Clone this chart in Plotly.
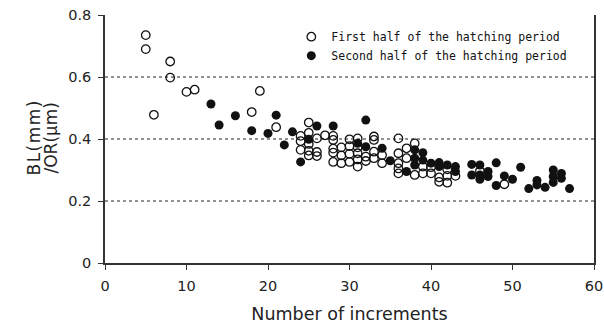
import plotly.graph_objects as go

# First half of the hatching period (open circles)
first_x = [5, 5, 6, 8, 8, 10, 11, 18, 19, 21,
           24, 24, 24,
           25, 25, 25, 25, 25,
           26, 26, 26,
           27,
           28, 28, 28, 28, 28,
           29, 29, 29,
           30, 30, 30, 30,
           31, 31, 31, 31, 31,
           32, 32,
           33, 33, 33, 33,
           34, 34,
           36, 36, 36, 36, 36,
           37, 37,
           38, 38,
           39, 39,
           40, 40,
           41, 41,
           42, 42, 42,
           43, 46, 49]
first_y = [0.735, 0.690, 0.478, 0.650, 0.598, 0.552, 0.559, 0.487, 0.555, 0.438,
           0.410, 0.393, 0.365,
           0.453, 0.420, 0.384, 0.362, 0.347,
           0.402, 0.358, 0.345,
           0.412,
           0.410, 0.397, 0.369, 0.356, 0.326,
           0.373, 0.347, 0.322,
           0.399, 0.377, 0.352, 0.326,
           0.402, 0.373, 0.354, 0.334, 0.311,
           0.343, 0.329,
           0.408, 0.397, 0.359, 0.338,
           0.348, 0.322,
           0.402, 0.354, 0.322, 0.305, 0.289,
           0.370, 0.338,
           0.386, 0.284,
           0.311, 0.289,
           0.309, 0.289,
           0.276, 0.262,
           0.302, 0.281, 0.259,
           0.281, 0.297, 0.254]

# Second half of the hatching period (filled circles)
second_x = [13, 14, 16, 18, 20, 21, 22, 23, 24, 25, 26, 28,
            31, 32, 32, 34, 35, 37,
            38, 38, 38,
            39, 39,
            40,
            41, 41,
            42,
            43, 43,
            45, 45,
            46, 46, 46,
            47, 47,
            48, 48,
            49, 50, 51, 52,
            53, 53,
            54,
            55, 55, 55,
            56, 56,
            57]
second_y = [0.513, 0.445, 0.475, 0.427, 0.418, 0.477, 0.381, 0.423, 0.326, 0.399, 0.442, 0.442,
            0.386, 0.461, 0.375, 0.370, 0.330, 0.295,
            0.365, 0.338, 0.316,
            0.356, 0.332,
            0.322,
            0.324, 0.311,
            0.316,
            0.311, 0.295,
            0.318, 0.284,
            0.316, 0.284, 0.270,
            0.295, 0.279,
            0.323, 0.250,
            0.281, 0.270, 0.309, 0.240,
            0.266, 0.252,
            0.244,
            0.300, 0.279, 0.260,
            0.289, 0.273,
            0.240]

x_ticks = [0, 10, 20, 30, 40, 50, 60]
y_ticks = [0, 0.2, 0.4, 0.6, 0.8]
y_tick_text = ["0", "0.2", "0.4", "0.6", "0.8"]
grid_levels = [0.2, 0.4, 0.6]
y_title_lines = [
    "<span style='letter-spacing:1.5px'>BL(mm)</span>",
    "/OR(<span style='font-family:Noto Sans CJK JP'>μ</span>m)",
]

fig = go.Figure()
fig.add_trace(go.Scatter(
    x=first_x, y=first_y, mode="markers",
    name="First half of the hatching period",
    marker=dict(symbol="circle-open", size=8.5, color="#111111", line=dict(width=1.3, color="#111111")),
))
fig.add_trace(go.Scatter(
    x=second_x, y=second_y, mode="markers",
    name="Second half of the hatching period",
    marker=dict(symbol="circle", size=9, color="#111111"),
))

for g in grid_levels:
    fig.add_hline(y=g, line=dict(color="#222222", width=1, dash="dot"), layer="below")

# two-line rotated y-axis title (tight line spacing as in the original)
for line_text, xpos in zip(y_title_lines, [-0.1472, -0.1125]):
    fig.add_annotation(
        text=line_text, xref="paper", yref="paper", x=xpos, y=0.506,
        xanchor="center", yanchor="middle", textangle=-90, showarrow=False,
        font=dict(size=17, family="DejaVu Sans, sans-serif", color="#222222"),
    )

fig.update_layout(
    width=604, height=331,
    margin=dict(l=105, r=10, t=15, b=68),
    paper_bgcolor="white", plot_bgcolor="white",
    font=dict(family="DejaVu Sans, sans-serif", color="#222222"),
    showlegend=True,
    legend=dict(
        x=0.381, y=0.971, xanchor="left", yanchor="top",
        bgcolor="rgba(0,0,0,0)",
        font=dict(family="DejaVu Sans Mono, monospace", size=11.5, color="#111111"),
        tracegroupgap=0, itemwidth=30,
    ),
    xaxis=dict(
        range=[0, 60], tickmode="array", tickvals=x_ticks,
        showgrid=False, zeroline=False, automargin=False,
        showline=True, linecolor="#333333", linewidth=1.5,
        ticks="outside", ticklen=5, tickcolor="#333333",
        tickfont=dict(size=14.5), ticklabelstandoff=4,
        title=dict(text="Number of increments", font=dict(size=17.5)),
    ),
    yaxis=dict(
        range=[0, 0.8], tickmode="array", tickvals=y_ticks, ticktext=y_tick_text,
        showgrid=False, zeroline=False, automargin=False,
        showline=True, linecolor="#333333", linewidth=1.5, mirror=True,
        ticks="outside", ticklen=5, tickcolor="#333333",
        tickfont=dict(size=14.5), ticklabelstandoff=4,
    ),
)

fig.write_html("out.html")
